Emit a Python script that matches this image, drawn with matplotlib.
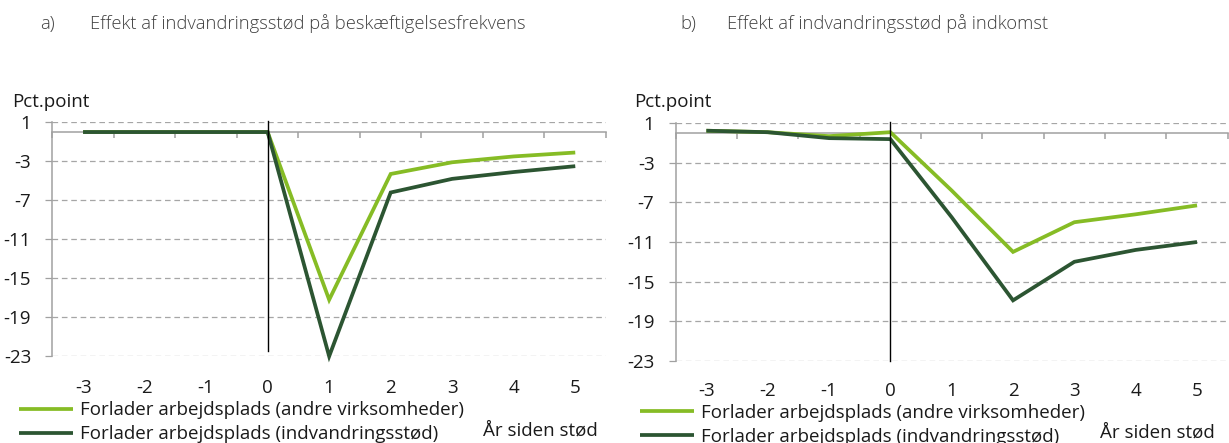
import matplotlib
matplotlib.use("Agg")
import matplotlib.pyplot as plt

plt.rcParams["font.family"] = ["Open Sans", "DejaVu Sans"]
plt.rcParams["axes.unicode_minus"] = False

# Years relative to the subsidy shock
years = [-3, -2, -1, 0, 1, 2, 3, 4, 5]
year_labels = ["-3", "-2", "-1", "0", "1", "2", "3", "4", "5"]

# a) Employment rate, percentage points
emp_other = [0.0, 0.0, 0.0, 0.0, -17.2, -4.3, -3.1, -2.5, -2.1]
emp_subsidy = [0.0, 0.0, 0.0, 0.0, -23.0, -6.2, -4.8, -4.1, -3.5]

# b) Income, percentage points
inc_other = [0.25, 0.1, -0.3, 0.1, -5.8, -12.0, -9.0, -8.2, -7.3]
inc_subsidy = [0.25, 0.1, -0.5, -0.6, -8.5, -16.9, -13.0, -11.8, -11.0]

y_ticks = [1, -3, -7, -11, -15, -19, -23]

series_names = ["Forlader arbejdsplads (andre virksomheder)",
                "Forlader arbejdsplads (indvandringsstød)"]
panel_titles = ["Effekt af indvandringsstød på beskæftigelsesfrekvens",
                "Effekt af indvandringsstød på indkomst"]
panel_letters = ["a)", "b)"]
y_unit = "Pct.point"
x_unit = "År siden stød"

LIGHT = "#86bc25"
DARK = "#2c5532"
GRID = "#a6a6a6"
AXIS = "#a0a0a0"
TEXT = "#1a1a1a"
FS = 13.5
TITLE_FS = 13.2

fig = plt.figure(figsize=(12.29, 4.43), dpi=100)


def draw_panel(rect, other, subsidy, vline_from, xlabel_pad):
    ax = fig.add_axes(rect)
    ax.set_xlim(years[0] - 0.5, years[-1] + 0.5)
    ax.set_ylim(min(y_ticks), max(y_ticks))

    ax.set_yticks(y_ticks, labels=[str(v) for v in y_ticks])
    ax.tick_params(axis="y", direction="out", length=5.3, width=0.9,
                   color=AXIS, pad=10, labelsize=FS, labelcolor=TEXT)
    ax.grid(axis="y", color=GRID, linewidth=0.9, linestyle=(0, (4.5, 3)))
    ax.set_axisbelow(True)

    for side in ("top", "right"):
        ax.spines[side].set_visible(False)
    ax.spines["left"].set_color(AXIS)
    ax.spines["left"].set_linewidth(1.1)
    ax.spines["bottom"].set_position(("data", 0))
    ax.spines["bottom"].set_color(AXIS)
    ax.spines["bottom"].set_linewidth(1.1)

    bounds = [y - 0.5 for y in years] + [years[-1] + 0.5]
    ax.set_xticks(years)
    ax.set_xticks(bounds, minor=True)
    ax.tick_params(axis="x", which="major", length=0, labelbottom=False)
    ax.tick_params(axis="x", which="minor", direction="out", length=4.5,
                   width=1.1, color=AXIS)

    sec = ax.secondary_xaxis("bottom")
    sec.set_xticks(years, labels=year_labels)
    sec.tick_params(length=0, pad=xlabel_pad, labelsize=FS, labelcolor=TEXT)
    sec.spines["bottom"].set_visible(False)

    l1, = ax.plot(years, other, color=LIGHT, lw=2.7, clip_on=False,
                  solid_joinstyle="miter", solid_capstyle="butt", zorder=3)
    l2, = ax.plot(years, subsidy, color=DARK, lw=2.7, clip_on=False,
                  solid_joinstyle="miter", solid_capstyle="butt", zorder=4)
    ax.axvline(0, ymin=vline_from, ymax=1.005, color="black", lw=1.0,
               clip_on=False, zorder=5)
    return ax, (l1, l2)


axes_rects = [[0.04256, 0.19571, 0.45053, 0.52822],
              [0.54980, 0.18578, 0.44915, 0.53589]]
data = [(emp_other, emp_subsidy), (inc_other, inc_subsidy)]
vline_starts = [0.023, 0.0]
xlabel_pads = [16.5, 15.5]

legend_anchor = [(0.0155, 0.094), (0.5205, 0.089)]
unit_pos = [(0.010, 0.770), (0.516, 0.770)]
xunit_pos = [(0.393, 0.027), (0.895, 0.023)]
letter_x = [0.033, 0.554]
title_x = [0.073, 0.5915]

for i in range(2):
    ax, handles = draw_panel(axes_rects[i], *data[i], vline_starts[i],
                             xlabel_pads[i])
    fig.legend(handles, series_names, loc="upper left",
               bbox_to_anchor=legend_anchor[i], frameon=False, fontsize=FS,
               handlelength=2.9, handletextpad=0.35, labelspacing=0.32,
               borderpad=0, borderaxespad=0, labelcolor=TEXT)
    fig.text(*unit_pos[i], y_unit, fontsize=FS, color=TEXT, va="center")
    fig.text(*xunit_pos[i], x_unit, fontsize=FS, color=TEXT, va="center")
    fig.text(letter_x[i], 0.946, panel_letters[i], fontsize=TITLE_FS,
             color="#404040", va="center", fontweight="light")
    fig.text(title_x[i], 0.946, panel_titles[i], fontsize=TITLE_FS,
             color="#404040", va="center", fontweight="light")

fig.savefig("out.png", dpi=100)
